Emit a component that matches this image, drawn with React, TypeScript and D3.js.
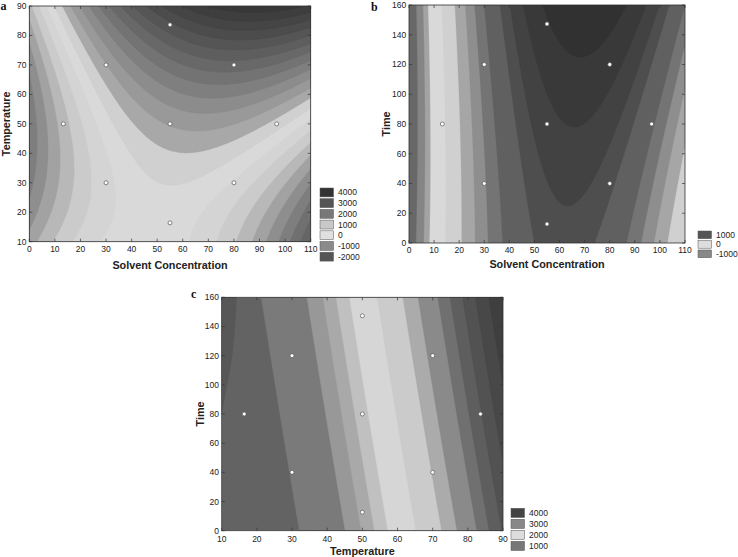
import React from "react";
import * as d3 from "d3";

// ---------- Panel a : Solvent Concentration x Temperature ----------
const aXTicks = [0, 10, 20, 30, 40, 50, 60, 70, 80, 90, 100, 110];
const aYTicks = [10, 20, 30, 40, 50, 60, 70, 80, 90];
const aDesignX = [55, 30, 80, 13.3, 55, 96.7, 30, 80, 55];
const aDesignY = [83.6, 70, 70, 50, 50, 50, 30, 30, 16.4];
// surface readings (x, temperature, level) taken from the contour bands
const aReadX = [16, 27.5, 40, 55, 64, 80, 94, 110, 55, 55, 55, 26, 36, 46, 110, 16.4, 12.5, 8.6, 5, 2.1, 2.6, 5.5, 10, 13, 80.4, 88.9, 94, 98, 101.3, 103.9, 106.5, 108.4, 110, 110, 110, 110];
const aReadY = [90, 70, 56, 46.5, 45, 47.5, 51.3, 60.5, 60.4, 72.3, 84.2, 90, 90, 90, 75, 40, 40, 40, 40, 40, 80, 10, 60, 25, 10, 10, 10, 10, 10, 10, 10, 10, 40, 32, 23, 14];
const aReadL = [4, 4, 4, 4, 4, 4, 4, 4, 7, 10, 13, 7, 10, 13, 8, 0, -1, -2, -3, -4, 0, 0, 0, 0, 0, -1, -2, -3, -4, -5, -6, -7, 0, -1, -3, -5];
const aThresholds = [-7, -6, -5, -4, -3, -2, -1, 0, 1, 2, 3, 4, 5, 6, 7, 8, 9, 10, 11, 12, 13, 14, 15];
const aColors = ["#545454", "#5c5c5c", "#656565", "#707070", "#7e7e7e", "#8e8e8e", "#a2a2a2", "#b8b8b8", "#cbcbcb", "#d4d4d4", "#d9d9d9", "#d0d0d0", "#a8a8a8", "#999999", "#8c8c8c", "#7f7f7f", "#737373", "#686868", "#5e5e5e", "#555555", "#4c4c4c", "#454545", "#3e3e3e", "#383838"];
const aLegendLabels = ["4000", "3000", "2000", "1000", "0", "-1000", "-2000"];
const aLegendColors = ["#333333", "#555555", "#787878", "#c8c8c8", "#e0e0e0", "#8a8a8a", "#555555"];

// ---------- Panel b : Solvent Concentration x Time ----------
const bXTicks = [0, 10, 20, 30, 40, 50, 60, 70, 80, 90, 100, 110];
const bYTicks = [0, 20, 40, 60, 80, 100, 120, 140, 160];
const bDesignX = [55, 30, 80, 13.3, 55, 96.7, 30, 80, 55];
const bDesignY = [147.3, 120, 120, 80, 80, 80, 40, 40, 12.7];
// quadratic model: [b0, bX, bT, bXX, bTT, bXT]
const bCoef = [-6.2632, 0.3472, -0.00636, -0.0028, 0.000033, 0.00028];
const bThresholds = [-5.3, -4.3, -3.6, -1.8, -0.2, 0.95, 1.9, 2.8, 4.1, 4.8, 5.6, 6.5];
const bColors = ["#686868", "#858585", "#a3a3a3", "#d9d9d9", "#d0d0d0", "#a6a6a6", "#8e8e8e", "#747474", "#606060", "#4e4e4e", "#424242", "#393939", "#313131"];
const bLegendLabels = ["1000", "0", "-1000"];
const bLegendColors = ["#555555", "#dddddd", "#888888"];

// ---------- Panel c : Temperature x Time ----------
const cXTicks = [10, 20, 30, 40, 50, 60, 70, 80, 90];
const cYTicks = [0, 20, 40, 60, 80, 100, 120, 140, 160];
const cDesignX = [50, 30, 70, 16.4, 50, 83.6, 30, 70, 50];
const cDesignY = [147.3, 120, 120, 80, 80, 80, 40, 40, 12.7];
// readings: each contour is labelled by the temperature where it meets the bottom axis
const cReadX = [30, 27, 24, 45, 38.5, 32.5, 50, 44, 38, 54, 48.5, 43, 58, 52, 46, 66, 60, 54, 73, 67.3, 61.6, 77, 71.3, 65.5, 82, 75.8, 69.5, 85, 80, 75, 88, 84, 80, 87.5, 83.5, 87];
const cReadY = [3, 80, 158, 3, 80, 158, 3, 80, 158, 3, 80, 158, 3, 80, 158, 3, 80, 158, 3, 80, 158, 3, 80, 158, 3, 80, 158, 3, 80, 158, 3, 80, 158, 80, 158, 158];
const cReadL = [30, 30, 30, 45, 45, 45, 50, 50, 50, 54, 54, 54, 58, 58, 58, 66, 66, 66, 73, 73, 73, 77, 77, 77, 82, 82, 82, 85, 85, 85, 88, 88, 88, 91, 91, 94];
const cThresholds = [30, 45, 50, 54, 58, 66, 73, 77, 82, 85, 88, 91, 94, 97];
const cColors = ["#636363", "#7a7a7a", "#989898", "#a9a9a9", "#c0c0c0", "#d6d6d6", "#cbcbcb", "#ababab", "#8a8a8a", "#707070", "#5e5e5e", "#525252", "#484848", "#3f3f3f", "#383838"];
// darker patch in the upper-left corner: its boundary (temperature, time)
const cEdgeX = [10, 11, 12, 13, 13.8, 14.3];
const cEdgeY = [80, 92, 105, 120, 140, 160];
const cEdgeColor = "#575757";
const cLegendLabels = ["4000", "3000", "2000", "1000"];
const cLegendColors = ["#444444", "#888888", "#dddddd", "#777777"];

type Fn = (x: number, y: number) => number;

function fitSurface(xs: number[], ys: number[], ls: number[], xd: number[], yd: number[], degree: number): Fn {
  const cx = (xd[0] + xd[1]) / 2, sx = (xd[1] - xd[0]) / 2;
  const cy = (yd[0] + yd[1]) / 2, sy = (yd[1] - yd[0]) / 2;
  const terms: number[][] = [];
  for (let d = 0; d <= degree; d++) for (let i = 0; i <= d; i++) terms.push([d - i, i]);
  const k = terms.length;
  const basis = (x: number, y: number) => {
    const u = (x - cx) / sx, v = (y - cy) / sy;
    return terms.map(([a, b]) => Math.pow(u, a) * Math.pow(v, b));
  };
  const A = d3.range(k).map(() => d3.range(k + 1).map(() => 0));
  xs.forEach((x, s) => {
    const b = basis(x, ys[s]);
    for (let i = 0; i < k; i++) {
      for (let j = 0; j < k; j++) A[i][j] += b[i] * b[j];
      A[i][k] += b[i] * ls[s];
    }
  });
  for (let i = 0; i < k; i++) A[i][i] += 1e-6;
  for (let i = 0; i < k; i++) {
    let p = i;
    for (let r = i + 1; r < k; r++) if (Math.abs(A[r][i]) > Math.abs(A[p][i])) p = r;
    [A[i], A[p]] = [A[p], A[i]];
    for (let r = 0; r < k; r++) {
      if (r === i) continue;
      const f = A[r][i] / A[i][i];
      for (let c = i; c <= k; c++) A[r][c] -= f * A[i][c];
    }
  }
  const coef = A.map((row, i) => row[k] / row[i]);
  return (x, y) => {
    const b = basis(x, y);
    return b.reduce((s, v, i) => s + v * coef[i], 0);
  };
}

function polyFn(c: number[]): Fn {
  return (x, y) => c[0] + c[1] * x + c[2] * y + c[3] * x * x + c[4] * y * y + c[5] * x * y;
}

interface PanelProps {
  id: string;
  letter: string;
  letterX: number;
  letterY: number;
  left: number;
  top: number;
  right: number;
  bottom: number;
  xDomain: number[];
  yDomain: number[];
  xTicks: number[];
  yTicks: number[];
  fn: Fn;
  thresholds: number[];
  colors: string[];
  designX: number[];
  designY: number[];
  xTitle: string;
  yTitle: string;
  xTitleY: number;
  yTitleX: number;
  tickLabelDy: number;
  legendX: number;
  legendY: number;
  legendPitch: number;
  legendLabels: string[];
  legendColors: string[];
  edgeX?: number[];
  edgeY?: number[];
  edgeColor?: string;
}

const tickFont = "Liberation Sans, Arial, sans-serif";

function Panel(p: PanelProps) {
  const w = p.right - p.left, h = p.bottom - p.top;
  const x = d3.scaleLinear().domain(p.xDomain).range([p.left, p.right]);
  const y = d3.scaleLinear().domain(p.yDomain).range([p.bottom, p.top]);
  const n = 240, m = 200;
  const values = new Array(n * m);
  for (let j = 0; j < m; j++) {
    const yv = y.invert(p.top + ((j + 0.5) / m) * h);
    for (let i = 0; i < n; i++) {
      const xv = x.invert(p.left + ((i + 0.5) / n) * w);
      values[j * n + i] = p.fn(xv, yv);
    }
  }
  const contours = d3.contours().size([n, m]).thresholds(p.thresholds)(values);
  const proj = d3.geoTransform({
    point(px: number, py: number) {
      (this as any).stream.point(p.left + (px / n) * w, p.top + (py / m) * h);
    },
  });
  const path = d3.geoPath(proj);
  let edgePath = "";
  if (p.edgeX && p.edgeY) {
    const pts: [number, number][] = p.edgeX.map((ex, k) => [x(ex), y(p.edgeY![k])]);
    const line = d3.line().curve(d3.curveMonotoneY);
    edgePath = (line(pts) || "") + `L${x(p.xDomain[0]) - 2},${y(p.edgeY[p.edgeY.length - 1]) - 2}L${x(p.xDomain[0]) - 2},${pts[0][1]}Z`;
  }
  const tl = 3;
  return (
    <g>
      <defs>
        <clipPath id={`clip-${p.id}`}>
          <rect x={p.left} y={p.top} width={w} height={h} />
        </clipPath>
      </defs>
      <g clipPath={`url(#clip-${p.id})`}>
        <rect x={p.left} y={p.top} width={w} height={h} fill={p.colors[0]} />
        {contours.map((c, k) => (
          <path key={k} d={path(c as any) || ""} fill={p.colors[k + 1]} stroke={p.colors[k + 1]} strokeWidth={0.3} />
        ))}
        {edgePath && <path d={edgePath} fill={p.edgeColor} />}
      </g>
      {p.designX.map((dx, k) => (
        <circle key={k} cx={x(dx)} cy={y(p.designY[k])} r={2} fill="#ffffff" stroke="#555" strokeWidth={0.7} />
      ))}
      <rect x={p.left} y={p.top} width={w} height={h} fill="none" stroke="#333" strokeWidth={0.8} />
      {p.xTicks.map((t) => (
        <g key={`x${t}`}>
          <line x1={x(t)} x2={x(t)} y1={p.bottom} y2={p.bottom - tl} stroke="#333" strokeWidth={0.7} />
          <line x1={x(t)} x2={x(t)} y1={p.top} y2={p.top + tl} stroke="#333" strokeWidth={0.7} />
          <text x={x(t)} y={p.bottom + p.tickLabelDy} textAnchor="middle" fontFamily={tickFont} fontSize={8.5} fill="#222">{t}</text>
        </g>
      ))}
      {p.yTicks.map((t) => (
        <g key={`y${t}`}>
          <line x1={p.left} x2={p.left + tl} y1={y(t)} y2={y(t)} stroke="#333" strokeWidth={0.7} />
          <line x1={p.right} x2={p.right - tl} y1={y(t)} y2={y(t)} stroke="#333" strokeWidth={0.7} />
          <text x={p.left - 2.8} y={y(t)} dy="0.35em" textAnchor="end" fontFamily={tickFont} fontSize={8.5} fill="#222">{t}</text>
        </g>
      ))}
      <text x={(p.left + p.right) / 2} y={p.xTitleY} textAnchor="middle" fontFamily={tickFont} fontWeight="bold" fontSize={10.8} fill="#222">{p.xTitle}</text>
      <text transform={`translate(${p.yTitleX},${(p.top + p.bottom) / 2}) rotate(-90)`} textAnchor="middle" fontFamily={tickFont} fontWeight="bold" fontSize={10.8} fill="#222">{p.yTitle}</text>
      <text x={p.letterX} y={p.letterY} fontFamily="Liberation Serif, Times New Roman, serif" fontWeight="bold" fontSize={12} fill="#111">{p.letter}</text>
      {p.legendLabels.map((lab, k) => (
        <g key={lab}>
          <rect x={p.legendX} y={p.legendY + k * p.legendPitch} width={13.5} height={p.legendPitch - 1.8} fill={p.legendColors[k]} stroke="#555" strokeWidth={0.5} />
          <text x={p.legendX + 18} y={p.legendY + k * p.legendPitch + (p.legendPitch - 1.8) / 2} dy="0.35em" fontFamily={tickFont} fontSize={8.5} fill="#222">{lab}</text>
        </g>
      ))}
    </g>
  );
}

export default function App() {
  const aFn = fitSurface(aReadX, aReadY, aReadL, [0, 110], [10, 90], 2);
  const bFn = polyFn(bCoef);
  const cFn = fitSurface(cReadX, cReadY, cReadL, [10, 90], [0, 160], 2);
  return (
    <svg width={738} height={557} style={{ position: "absolute", left: 0, top: 0, background: "#fff" }}>
      <Panel id="a" letter="a" letterX={0.5} letterY={10} left={29.3} top={6} right={310.7} bottom={241.7}
        xDomain={[0, 110]} yDomain={[10, 90]} xTicks={aXTicks} yTicks={aYTicks} fn={aFn}
        thresholds={aThresholds} colors={aColors} designX={aDesignX} designY={aDesignY}
        xTitle="Solvent Concentration" yTitle="Temperature" xTitleY={268.5} yTitleX={10} tickLabelDy={10.3}
        legendX={320} legendY={188} legendPitch={10.7} legendLabels={aLegendLabels} legendColors={aLegendColors} />
      <Panel id="b" letter="b" letterX={371} letterY={11} left={409} top={5} right={685} bottom={243}
        xDomain={[0, 110]} yDomain={[0, 160]} xTicks={bXTicks} yTicks={bYTicks} fn={bFn}
        thresholds={bThresholds} colors={bColors} designX={bDesignX} designY={bDesignY}
        xTitle="Solvent Concentration" yTitle="Time" xTitleY={268} yTitleX={390} tickLabelDy={10}
        legendX={698} legendY={231} legendPitch={9.5} legendLabels={bLegendLabels} legendColors={bLegendColors} />
      <Panel id="c" letter="c" letterX={191} letterY={298} left={221.7} top={297.3} right={503} bottom={530.7}
        xDomain={[10, 90]} yDomain={[0, 160]} xTicks={cXTicks} yTicks={cYTicks} fn={cFn}
        thresholds={cThresholds} colors={cColors} designX={cDesignX} designY={cDesignY}
        xTitle="Temperature" yTitle="Time" xTitleY={554.5} yTitleX={203.5} tickLabelDy={10.8}
        legendX={511} legendY={508.3} legendPitch={11} legendLabels={cLegendLabels} legendColors={cLegendColors}
        edgeX={cEdgeX} edgeY={cEdgeY} edgeColor={cEdgeColor} />
    </svg>
  );
}
